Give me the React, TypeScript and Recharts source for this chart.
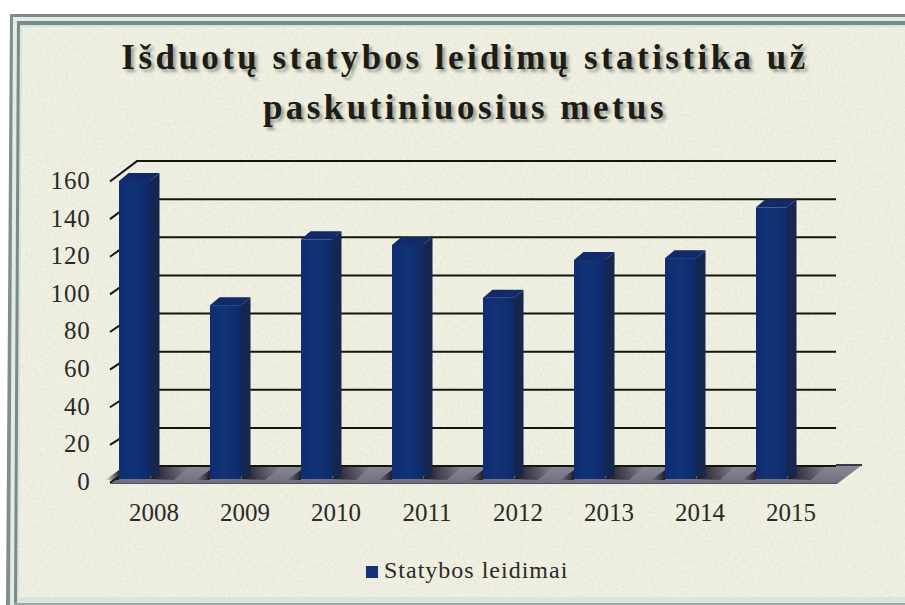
import React from "react";
import { ComposedChart, Bar, XAxis, YAxis, CartesianGrid, Legend } from "recharts";

const years = ["2008", "2009", "2010", "2011", "2012", "2013", "2014", "2015"];
const permits = [160, 94, 129, 126, 98, 118, 119, 146];
const yTicks = [0, 20, 40, 60, 80, 100, 120, 140, 160];
const titleLines = ["Išduotų statybos leidimų statistika už", "paskutiniuosius metus"];
const seriesName = "Statybos leidimai";

const chartData = years.map((year, i) => ({ year, permits: permits[i] }));
const FONT = "'Liberation Serif', 'Times New Roman', serif";

const backY = (y: number) => 465 - (481 - y) * 1.013;

const GridLine = (props: any) => {
  const { y1 } = props;
  const by = backY(y1);
  const isFloor = y1 > 478;
  return (
    <g>
      {isFloor && <polygon points={`110,483 137,465 862,465 837,484`} fill="url(#floorFill)" />}
      {isFloor && <line x1={110} y1={483.5} x2={837} y2={483.5} stroke="#55525f" strokeWidth={1} />}
      {isFloor && <line x1={836} y1={465} x2={862} y2={465} stroke="#3a3842" strokeWidth={2} />}
      <path d={`M110 ${y1 + 0.5} L137 ${by} L836 ${by}`} fill="none" stroke="#15140f" strokeWidth={2} />
    </g>
  );
};

const Bar3D = (props: any) => {
  const { x, y, width, height } = props;
  const l = x - 19.5;
  const r = l + width;
  const b = y + height - 3;
  const dx = 9.5;
  const dy = 8;
  return (
    <g>
      <polygon points={`${r},${b} ${r + 9},${b - 13} ${r + 40},${b - 13} ${r + 24},${b + 1}`} fill="url(#shadowR)" />
      <polygon points={`${l - 14},${b + 1} ${l},${b - 9} ${l},${b + 1}`} fill="url(#shadowL)" />
      <polygon points={`${l},${y} ${l + dx},${y - dy} ${r + dx},${y - dy} ${r},${y}`} fill="#12296a" />
      <rect x={r} y={y - 0.5} width={dx} height={height - 5} fill="#15264f" />
      <polygon points={`${r},${y} ${r + dx},${y - dy} ${r + dx},${y}`} fill="#15264f" />
      <rect x={l} y={y} width={width} height={b - y} fill="url(#barFront)" />
    </g>
  );
};

const Background = () => (
  <svg width={905} height={605} style={{ position: "absolute", left: 0, top: 0 }}>
    <defs>
      <filter id="paper" x="0" y="0" width="100%" height="100%">
        <feTurbulence type="fractalNoise" baseFrequency="0.35" numOctaves={3} seed={4} />
        <feColorMatrix values="0 0 0 0 0.62  0 0 0 0 0.64  0 0 0 0 0.54  0.35 0.35 0 0 -0.27" />
      </filter>
    </defs>
    <rect x={0} y={0} width={905} height={605} fill="#ffffff" />
    <polygon points="10,14 905,14 905,605 6,605" fill="#7f8d8c" />
    <polygon points="13,17 905,17 905,605 10,605" fill="#e3ebe7" />
    <polygon points="17,21 905,21 905,605 14,605" fill="#7b8a88" />
    <polygon points="20,25 905,25 905,605 17,605" fill="#d8e6e0" />
    <polygon points="22,27 905,27 905,597 19,597" fill="#f0f0e3" />
    <polygon points="22,27 905,27 905,597 19,597" filter="url(#paper)" />
    <rect x={14} y={603} width={891} height={2} fill="#9aa8a4" />
  </svg>
);

export default function App() {
  return (
    <div style={{ position: "absolute", left: 0, top: 0, width: 905, height: 605, overflow: "hidden", fontFamily: FONT }}>
      <Background />
      <div
        style={{
          position: "absolute",
          left: 0,
          top: 33,
          width: 930,
          textAlign: "center",
          fontSize: 35,
          lineHeight: "50px",
          fontWeight: 700,
          letterSpacing: 3.45,
          color: "#1d1c16",
          textShadow: "3px 3px 3px rgba(90,100,90,0.55)",
        }}
      >
        {titleLines.map((t) => (
          <div key={t}>{t}</div>
        ))}
      </div>
      <div style={{ position: "absolute", left: 0, top: 0 }}>
        <ComposedChart
          width={905}
          height={605}
          data={chartData}
          margin={{ top: 181, right: 68.5, bottom: 56, left: 48.5 }}
          barCategoryGap={0}
          style={{ fontFamily: FONT }}
        >
          <defs>
            <linearGradient id="barFront" x1="0" x2="1" y1="0" y2="0">
              <stop offset="0" stopColor="#0f2d70" />
              <stop offset="0.5" stopColor="#113377" />
              <stop offset="1" stopColor="#0f2a69" />
            </linearGradient>
            <linearGradient id="floorFill" x1="0" x2="0" y1="0" y2="1">
              <stop offset="0" stopColor="#8a8997" />
              <stop offset="1" stopColor="#6f6d7c" />
            </linearGradient>
            <linearGradient id="shadowR" x1="0" x2="1" y1="0" y2="0">
              <stop offset="0" stopColor="#14131c" stopOpacity={0.95} />
              <stop offset="1" stopColor="#14131c" stopOpacity={0} />
            </linearGradient>
            <linearGradient id="shadowL" x1="0" x2="1" y1="0" y2="0">
              <stop offset="0" stopColor="#14131c" stopOpacity={0} />
              <stop offset="1" stopColor="#14131c" stopOpacity={0.9} />
            </linearGradient>
          </defs>
          <CartesianGrid vertical={false} horizontal={(p: any) => <GridLine {...p} key={p.key} />} />
          <XAxis
            dataKey="year"
            axisLine={false}
            tickLine={false}
            height={40}
            interval={0}
            tickMargin={15}
            tick={{ fontSize: 25, fill: "#2b2a25", fontFamily: FONT }}
          />
          <YAxis
            domain={[0, 160]}
            ticks={yTicks}
            axisLine={false}
            tickLine={false}
            width={60}
            tickMargin={12}
            interval={0}
            tick={{ fontSize: 25, fill: "#2b2a25", fontFamily: FONT, letterSpacing: 0.8, dy: -1 }}
          />
          <Legend
            verticalAlign="bottom"
            align="left"
            iconType="square"
            iconSize={12}
            wrapperStyle={{ position: "absolute", left: 366, top: 557, width: "auto", bottom: "auto", fontSize: 24, letterSpacing: 1 }}
            formatter={(v: any) => <span style={{ color: "#2b2a25", marginLeft: 2 }}>{v}</span>}
          />
          <Bar
            dataKey="permits"
            name={seriesName}
            fill="#123279"
            barSize={31}
            shape={(p: any) => <Bar3D {...p} />}
            isAnimationActive={false}
          />
        </ComposedChart>
      </div>
    </div>
  );
}
